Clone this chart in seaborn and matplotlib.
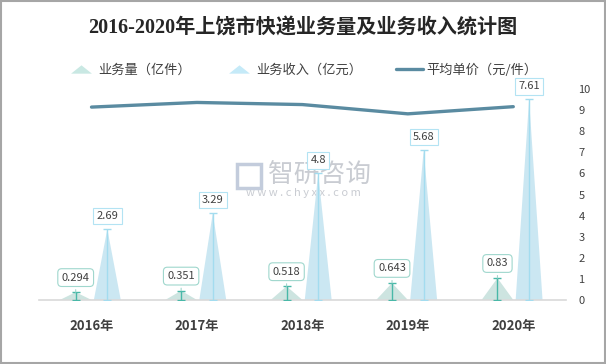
import numpy as np
import pandas as pd
import matplotlib
matplotlib.use("Agg")
import matplotlib.pyplot as plt
import seaborn as sns
from matplotlib.patches import Polygon, Rectangle
from matplotlib.lines import Line2D

# data
years = ["2016年", "2017年", "2018年", "2019年", "2020年"]
volume = [0.294, 0.351, 0.518, 0.643, 0.83]      # 业务量（亿件）
revenue = [2.69, 3.29, 4.8, 5.68, 7.61]          # 业务收入（亿元）
unit_price = [9.15, 9.37, 9.27, 8.83, 9.17]      # 平均单价（元/件）
series_names = ["业务量（亿件）", "业务收入（亿元）", "平均单价（元/件）"]

vol_color = "#c9e8e3"
rev_color = "#c5eaf8"
vol_edge = "#49b8a8"
rev_edge = "#a3dcef"
line_color = "#5a8ba1"
text_color = "#404040"

sns.set_style("white")
plt.rcParams["font.family"] = ["Noto Sans CJK SC", "DejaVu Sans"]

df = pd.DataFrame({
    "年份": years * 2,
    "数值": volume + revenue,
    "指标": [series_names[0]] * len(years) + [series_names[1]] * len(years),
})

fig = plt.figure(figsize=(6.06, 3.64), dpi=100)
ax = fig.add_axes([0.064, 0.176, 0.87, 0.579])
ax.set_zorder(1)
ax.patch.set_alpha(0)

sns.barplot(data=df, x="年份", y="数值", hue="指标", palette=[vol_color, rev_color],
            width=0.6, errorbar=None, legend=False, ax=ax)

# turn the bars into pyramids (triangles)
for i, bar in enumerate(list(ax.patches)):
    x0, w, h = bar.get_x(), bar.get_width(), bar.get_height()
    shrink = 1.0 if i < len(years) else 0.85
    cx = x0 + w / 2
    hw = w * shrink / 2
    tri = Polygon([(cx - hw, 0), (cx, h), (cx + hw, 0)], closed=True,
                  facecolor=bar.get_facecolor(), edgecolor="none", zorder=2)
    ax.add_patch(tri)
    bar.set_visible(False)

idx = np.arange(len(years))
off = 0.15
ax.errorbar(idx - off, volume, yerr=[volume, np.zeros(len(volume))], fmt="none",
            ecolor=vol_edge, elinewidth=1, capsize=3, capthick=1, zorder=3)
ax.errorbar(idx + off, revenue, yerr=[revenue, np.zeros(len(revenue))], fmt="none",
            ecolor=rev_edge, elinewidth=1, capsize=3, capthick=1, zorder=3)

for x, v in zip(idx - off, volume):
    ax.annotate(f"{v:g}", xy=(x, v), xytext=(0, 10.5), textcoords="offset points",
                ha="center", va="center", fontsize=8, color=text_color,
                bbox=dict(boxstyle="round,pad=0.35", fc="white", ec="#9fd7cd", lw=0.8),
                arrowprops=dict(arrowstyle="-", color="#9fd7cd", lw=0.8), zorder=5)
for x, v in zip(idx + off, revenue):
    ax.annotate(f"{v:g}", xy=(x, v), xytext=(0, 9.5), textcoords="offset points",
                ha="center", va="center", fontsize=8, color=text_color,
                bbox=dict(boxstyle="square,pad=0.3", fc="white", ec="#b3e3f3", lw=0.8),
                zorder=5)

ax.set_xlim(-0.5, len(years) - 0.5)
ax.set_ylim(0, 8)
ax.set_xlabel("")
ax.set_ylabel("")
ax.set_yticks([])
for s in ["top", "right", "left"]:
    ax.spines[s].set_visible(False)
ax.spines["bottom"].set_color("#d9d9d9")
ax.spines["bottom"].set_linewidth(1.2)
ax.tick_params(axis="x", length=0, pad=14, labelsize=9.5, labelcolor=text_color)
for lab in ax.get_xticklabels():
    lab.set_fontweight("bold")

# 平均单价 on the right axis
ax2 = ax.twinx()
ax2.set_zorder(1.5)
ax2.patch.set_alpha(0)
sns.lineplot(x=idx, y=unit_price, ax=ax2, color=line_color, linewidth=2.4)
ax2.set_ylim(0, 10)
ax2.set_yticks(range(0, 11))
ax2.tick_params(axis="y", length=0, pad=9, labelsize=8, labelcolor=text_color)
for s in ax2.spines.values():
    s.set_visible(False)
ax2.set_xlim(-0.5, len(years) - 0.5)

# title
fig.text(0.5, 1 - 29 / 364, "2016-2020年上饶市快递业务量及业务收入统计图",
         ha="center", va="center", fontsize=14.5, fontweight="bold", color="#262626",
         family=["Liberation Serif", "Noto Sans CJK SC"])

# legend
tri_marker = [(-1, -0.4), (0, 0.4), (1, -0.4), (-1, -0.4)]
handles = [
    Line2D([], [], marker=tri_marker, linestyle="none", markersize=15,
           markerfacecolor=vol_color, markeredgecolor="none"),
    Line2D([], [], marker=tri_marker, linestyle="none", markersize=15,
           markerfacecolor=rev_color, markeredgecolor="none"),
    Line2D([], [], color=line_color, linewidth=2.4),
]
leg = fig.legend(handles, series_names, loc="center", bbox_to_anchor=(0.5, 1 - 70 / 364),
                 ncol=3, frameon=False, fontsize=9.5, columnspacing=2.6,
                 handlelength=2.0, handletextpad=0.3)
for t in leg.get_texts():
    t.set_color(text_color)

# watermark
fig.text(0.528, 1 - 175 / 364, "智研咨询", ha="center", va="center", fontsize=18.5,
         color="#c9ccd2", zorder=0.5)
fig.text(0.5, 1 - 193 / 364, "w w w . c h y x x . c o m", ha="center", va="center",
         fontsize=8, color="#c9ccd2", zorder=0.5)
fig.add_artist(Rectangle((237 / 606, 1 - 188 / 364), 24 / 606, 24 / 364,
                         transform=fig.transFigure, fill=False, ec="#c3ccdc",
                         lw=2.5, zorder=0.5))

# outer border
fig.add_artist(Rectangle((0.001, 0.002), 0.997, 0.995, transform=fig.transFigure,
                         fill=False, ec="#a6a6a6", lw=1.5))

fig.savefig("out.png", dpi=100)
